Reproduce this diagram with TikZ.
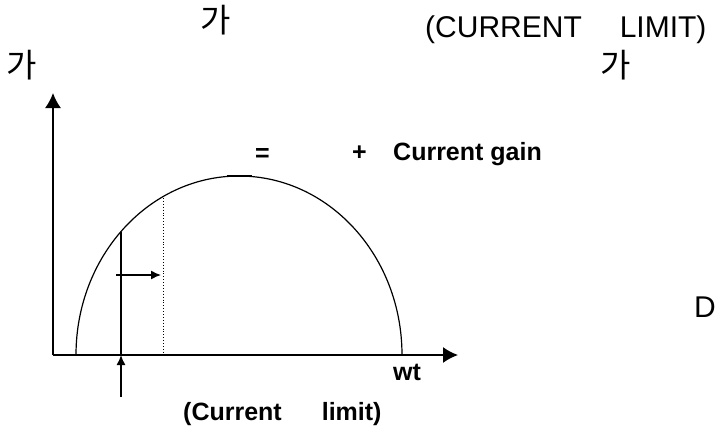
\documentclass[tikz,border=0pt]{standalone}
\usepackage{fontspec}
\setmainfont{Liberation Sans}
\newfontfamily\kor{Noto Sans CJK KR}
\usetikzlibrary{arrows.meta}
\begin{document}
\begin{tikzpicture}[x=1pt,y=-1pt,
  txt/.style={inner sep=0pt,anchor=base west,font=\fontsize{30}{36}\selectfont},
  hg/.style={inner sep=0pt,anchor=base,font=\kor\fontsize{33}{38}\selectfont},
  bl/.style={inner sep=0pt,anchor=base west,font=\bfseries\fontsize{25}{30}\selectfont},
  axis/.style={line width=1.6pt,-{Latex[length=15pt,width=16pt]}},
  small/.style={line width=1.4pt,-{Latex[length=10pt,width=9pt]}}]
\useasboundingbox (0,0) rectangle (717,431);
\path node[hg] (G1) at (216,32) {가}
node[txt] (CL) at (425,37) {(CURRENT\hspace{38pt}LIMIT)}
node[hg] (G2) at (22,77) {가}
node[hg] (G3) at (616,77) {가}
node[bl] (EQ) at (255,161) {=}
node[bl] (PL) at (352,160) {+}
node[bl] (CG) at (393,160) {Current gain}
node[bl] (WT) at (393,380) {wt}
node[bl] (LIM) at (183,420) {(Current\hspace{40pt}limit)}
node[txt] (D) at (694,317) {D}
;
\coordinate (O) at (53,355);
\coordinate (X) at (458,355);
\coordinate (Y) at (53,93);
\coordinate (S) at (76,355);
\coordinate (PKa) at (227,176);
\coordinate (PKb) at (252,176);
\coordinate (CUT) at (121,232);
\coordinate (CUTb) at (121,355);
\coordinate (UP) at (121,397);
\coordinate (Ha) at (116,275);
\coordinate (Hb) at (161,275);
\coordinate (DTa) at (163,198);
\coordinate (DTb) at (163,355);
\draw[axis] (O) -- (X);
\draw[axis] (O) -- (Y);
\draw[line width=1.2pt] (S) arc[start angle=180,end angle=360,x radius=163,y radius=179];
\draw[line width=2.6pt] (PKa) -- (PKb);
\draw[line width=1.8pt] (CUT) -- (CUTb);
\draw[small] (UP) -- (CUTb);
\draw[small] (Ha) -- (Hb);
\draw[dotted,line width=0.9pt] (DTa) -- (DTb);
\end{tikzpicture}
\end{document}
